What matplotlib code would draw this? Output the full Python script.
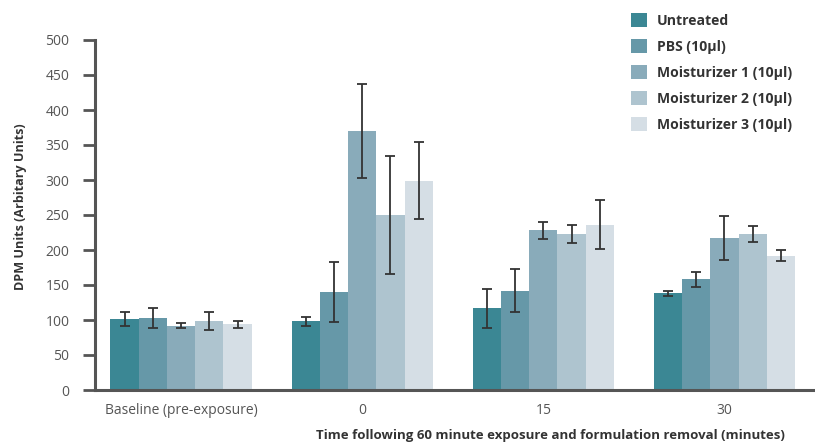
import matplotlib.pyplot as plt
import numpy as np

plt.rcParams['font.family'] = ['Open Sans', 'DejaVu Sans']

# data
groups = ['Baseline (pre-exposure)', '0', '15', '30']
series = ['Untreated', 'PBS (10µl)', 'Moisturizer 1 (10µl)', 'Moisturizer 2 (10µl)', 'Moisturizer 3 (10µl)']
untreated = [102, 98, 117, 138]
pbs = [103, 140, 142, 158]
moist1 = [92, 370, 228, 217]
moist2 = [99, 250, 223, 223]
moist3 = [94, 299, 236, 192]
untreated_err = [10, 6, 28, 3]
pbs_err = [14, 43, 31, 11]
moist1_err = [4, 67, 12, 31]
moist2_err = [13, 84, 13, 11]
moist3_err = [5, 55, 35, 8]
colors = ['#3b8794', '#6698a8', '#89abba', '#aec4cf', '#d5dee5']

values = [untreated, pbs, moist1, moist2, moist3]
errors = [untreated_err, pbs_err, moist1_err, moist2_err, moist3_err]

fig = plt.figure(figsize=(8.15, 4.45), dpi=100)
ax = fig.add_axes([95/815, 55/445, 720/815, 350/445])

x = np.arange(len(groups))
w = 0.156
for i in range(len(series)):
    pos = x + (i - 2) * w
    ax.bar(pos, values[i], w, color=colors[i], label=series[i], zorder=2)
    ax.errorbar(pos, values[i], yerr=errors[i], fmt='none', ecolor='#333333',
                elinewidth=1.3, capsize=3.5, capthick=1.3, zorder=3)

ax.set_xlim(-0.475, 3.5)
ax.set_ylim(0, 500)
ax.set_yticks(np.arange(0, 501, 50))
ax.set_xticks(x)
ax.set_xticklabels(groups)
ax.tick_params(axis='y', length=8.5, width=2, color='#555555', pad=10,
               labelsize=10, labelcolor='#555555')
ax.tick_params(axis='x', length=0, pad=9, labelsize=10, labelcolor='#555555')
for s in ['top', 'right']:
    ax.spines[s].set_visible(False)
for s in ['left', 'bottom']:
    ax.spines[s].set_linewidth(2.2)
    ax.spines[s].set_color('#555555')
ax.spines['left'].set_zorder(4)

fig.text(21/815, 238/445, 'DPM Units (Arbitary Units)', rotation=90, ha='center', va='center',
         fontsize=9.1, fontweight='bold', color='#333333')
fig.text(550/815, 10/445, 'Time following 60 minute exposure and formulation removal (minutes)',
         ha='center', va='center', fontsize=9.5, fontweight='bold', color='#333333')

leg = fig.legend(loc='upper left', bbox_to_anchor=(625/815, 1 - 7/445), frameon=False,
                 fontsize=10.1, handlelength=1.2, handleheight=1.2, handletextpad=0.65,
                 labelspacing=0.79, borderaxespad=0)
for t in leg.get_texts():
    t.set_fontweight('bold')
    t.set_color('#333333')

fig.savefig('out.png', dpi=100)
